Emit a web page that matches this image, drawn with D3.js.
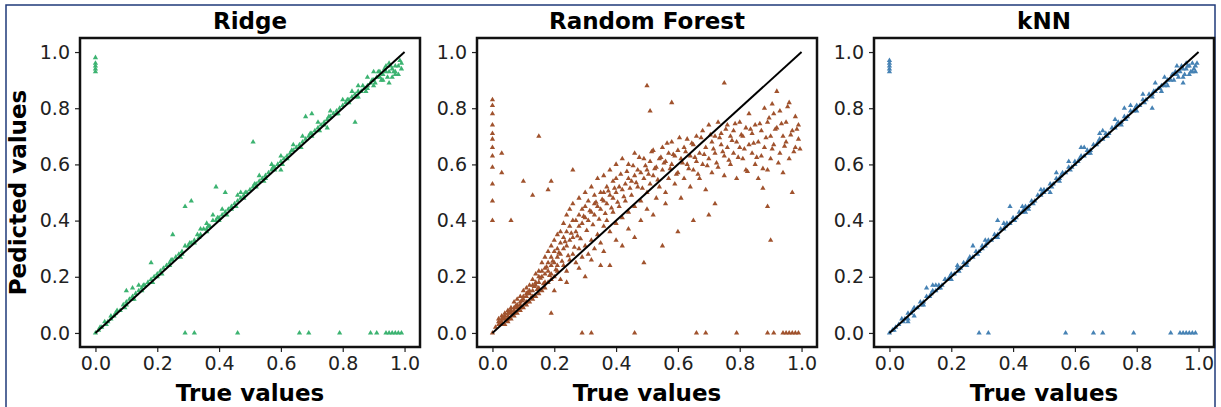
<!DOCTYPE html>
<html>
<head>
<meta charset="utf-8">
<script src="https://cdn.jsdelivr.net/npm/d3@7"></script>
<style>
  body { margin: 0; background: white; }
  svg { font-family: "DejaVu Sans", sans-serif; }
  .tick text { font-size: 19px !important; fill: #222; }
</style>
</head>
<body>
<svg id="chart" width="1221" height="407"></svg>
<script>
// panel titles and colours
var titles = ["Ridge", "Random Forest", "kNN"];
var colors = ["#3cb371", "#a0522d", "#4682b4"];
var ticks = [0.0, 0.2, 0.4, 0.6, 0.8, 1.0];
var diagonal = [[0, 0], [1, 1]];

// [true, predicted]
var ridgePoints = [
  [0.01,0.01],[0.02,0.02],[0.03,0.04],[0.04,0.04],[0.05,0.06],[0.06,0.06],[0.07,0.08],[0.08,0.08],[0.09,0.10],[0.10,0.11],
  [0.11,0.12],[0.12,0.13],[0.13,0.14],[0.14,0.15],[0.15,0.16],[0.16,0.17],[0.17,0.18],[0.18,0.19],[0.19,0.20],[0.20,0.21],
  [0.21,0.22],[0.22,0.23],[0.23,0.24],[0.24,0.25],[0.25,0.26],[0.26,0.27],[0.27,0.28],[0.28,0.29],[0.29,0.31],[0.30,0.31],
  [0.31,0.32],[0.32,0.33],[0.33,0.35],[0.34,0.35],[0.35,0.37],[0.36,0.37],[0.37,0.38],[0.38,0.40],[0.39,0.40],[0.40,0.41],
  [0.41,0.42],[0.42,0.43],[0.43,0.44],[0.44,0.45],[0.45,0.46],[0.46,0.47],[0.47,0.48],[0.48,0.49],[0.49,0.50],[0.50,0.51],
  [0.51,0.52],[0.52,0.53],[0.53,0.54],[0.54,0.55],[0.55,0.56],[0.56,0.57],[0.57,0.58],[0.58,0.59],[0.59,0.60],[0.60,0.61],
  [0.61,0.62],[0.62,0.63],[0.63,0.64],[0.64,0.65],[0.65,0.66],[0.66,0.67],[0.67,0.68],[0.68,0.69],[0.69,0.70],[0.70,0.71],
  [0.71,0.72],[0.72,0.73],[0.73,0.74],[0.74,0.75],[0.75,0.76],[0.76,0.77],[0.77,0.78],[0.78,0.79],[0.79,0.80],[0.80,0.81],
  [0.81,0.82],[0.82,0.83],[0.83,0.84],[0.84,0.85],[0.85,0.86],[0.86,0.86],[0.87,0.87],[0.88,0.88],[0.89,0.89],[0.90,0.90],
  [0.91,0.91],[0.92,0.91],[0.93,0.92],[0.94,0.93],[0.95,0.93],[0.96,0.94],[0.97,0.95],[0.98,0.95],[0.99,0.96],[0.99,0.94],
  [0.05,0.05],[0.10,0.10],[0.12,0.12],[0.15,0.15],[0.20,0.20],[0.24,0.24],[0.28,0.28],[0.32,0.32],[0.36,0.36],[0.40,0.40],
  [0.44,0.44],[0.48,0.48],[0.52,0.52],[0.55,0.55],[0.58,0.58],[0.62,0.62],[0.66,0.66],[0.70,0.70],[0.74,0.74],[0.78,0.78],
  [0.82,0.82],[0.85,0.84],[0.88,0.87],[0.90,0.88],[0.92,0.93],[0.93,0.90],[0.95,0.96],[0.96,0.91],[0.97,0.93],[0.98,0.92],
  [0.34,0.37],[0.36,0.39],[0.38,0.42],[0.41,0.44],[0.47,0.50],[0.53,0.56],[0.57,0.60],[0.60,0.63],[0.64,0.67],[0.67,0.70],
  [0.72,0.75],[0.76,0.79],[0.80,0.83],[0.83,0.86],[0.85,0.88],[0.88,0.91],[0.90,0.93],[0.94,0.95],[0.60,0.58],[0.75,0.73],
  [0.015,0.02],[0.035,0.03],[0.065,0.07],[0.095,0.09],[0.125,0.12],[0.155,0.17],[0.185,0.18],[0.215,0.21],[0.245,0.26],[0.275,0.27],
  [0.305,0.32],[0.335,0.34],[0.365,0.38],[0.395,0.41],[0.425,0.42],[0.455,0.45],[0.485,0.50],[0.515,0.53],[0.545,0.54],[0.575,0.59],
  [0.605,0.60],[0.635,0.65],[0.665,0.66],[0.695,0.71],[0.725,0.72],[0.755,0.77],[0.785,0.78],[0.815,0.83],[0.845,0.84],[0.865,0.88],
  [0.875,0.86],[0.895,0.90],[0.905,0.89],[0.915,0.93],[0.925,0.90],[0.935,0.94],[0.945,0.91],[0.955,0.95],[0.965,0.93],[0.985,0.97],
  [0.29,0.45],[0.31,0.47],[0.39,0.52],[0.42,0.50],[0.51,0.68],[0.25,0.35],[0.18,0.25],[0.10,0.15],[0.12,0.16],[0.14,0.17],
  [0.68,0.77],[0.70,0.78],[0.84,0.75],[0.97,0.92],[0.95,0.89],[0.46,0.49],
  [0.00,0.98],[0.00,0.96],[0.00,0.95],[0.00,0.94],[0.00,0.93],[0.00,0.00],
  [0.29,0.00],[0.32,0.00],[0.46,0.00],[0.66,0.00],[0.69,0.00],[0.79,0.00],[0.89,0.00],[0.91,0.00],
  [0.94,0.00],[0.95,0.00],[0.96,0.00],[0.97,0.00],[0.98,0.00],[0.99,0.00]
];

var forestPoints = [
  [0.01,0.02],[0.02,0.03],[0.02,0.05],[0.03,0.04],[0.03,0.06],[0.04,0.05],[0.04,0.07],[0.04,0.03],[0.05,0.06],[0.05,0.08],
  [0.05,0.04],[0.06,0.07],[0.06,0.09],[0.06,0.05],[0.07,0.08],[0.07,0.11],[0.07,0.06],[0.08,0.09],[0.08,0.12],[0.08,0.07],
  [0.09,0.10],[0.09,0.13],[0.09,0.08],[0.10,0.12],[0.10,0.15],[0.10,0.09],[0.11,0.13],[0.11,0.16],[0.11,0.10],[0.12,0.14],
  [0.12,0.17],[0.12,0.11],[0.13,0.15],[0.13,0.19],[0.13,0.12],[0.14,0.17],[0.14,0.21],[0.14,0.13],[0.15,0.18],[0.15,0.22],
  [0.15,0.14],[0.16,0.20],[0.16,0.25],[0.16,0.15],[0.17,0.21],[0.17,0.27],[0.17,0.16],[0.18,0.22],[0.18,0.29],[0.18,0.18],
  [0.19,0.24],[0.19,0.31],[0.19,0.19],[0.20,0.25],[0.20,0.33],[0.20,0.20],[0.21,0.27],[0.21,0.35],[0.21,0.22],[0.22,0.28],
  [0.22,0.36],[0.22,0.19],[0.23,0.30],[0.23,0.39],[0.23,0.24],[0.24,0.31],[0.24,0.42],[0.24,0.22],[0.25,0.33],[0.25,0.44],
  [0.25,0.26],[0.26,0.34],[0.26,0.46],[0.26,0.28],[0.27,0.36],[0.27,0.40],[0.27,0.25],[0.28,0.38],[0.28,0.48],[0.28,0.30],
  [0.29,0.39],[0.29,0.44],[0.29,0.27],[0.30,0.41],[0.30,0.50],[0.30,0.31],[0.31,0.40],[0.31,0.47],[0.31,0.28],[0.32,0.43],
  [0.32,0.52],[0.32,0.33],[0.33,0.42],[0.33,0.49],[0.33,0.30],[0.34,0.45],[0.34,0.55],[0.34,0.35],[0.35,0.44],[0.35,0.50],
  [0.35,0.32],[0.36,0.47],[0.36,0.56],[0.36,0.38],[0.37,0.46],[0.37,0.52],[0.37,0.40],[0.38,0.49],[0.38,0.58],[0.38,0.36],
  [0.39,0.48],[0.39,0.54],[0.39,0.43],[0.40,0.50],[0.40,0.60],[0.40,0.39],[0.41,0.52],[0.41,0.45],[0.42,0.51],[0.42,0.62],
  [0.42,0.41],[0.43,0.53],[0.43,0.47],[0.44,0.55],[0.44,0.60],[0.44,0.43],[0.45,0.54],[0.45,0.49],[0.46,0.56],[0.46,0.64],
  [0.46,0.45],[0.47,0.52],[0.47,0.58],[0.48,0.57],[0.48,0.47],[0.49,0.55],[0.49,0.62],[0.50,0.58],[0.50,0.50],[0.50,0.44],
  [0.51,0.61],[0.51,0.53],[0.52,0.56],[0.52,0.65],[0.53,0.59],[0.53,0.48],[0.54,0.62],[0.54,0.52],[0.55,0.58],[0.55,0.66],
  [0.56,0.61],[0.56,0.50],[0.57,0.64],[0.57,0.55],[0.58,0.60],[0.58,0.68],[0.59,0.63],[0.59,0.53],[0.60,0.65],[0.60,0.57],
  [0.61,0.62],[0.61,0.48],[0.62,0.66],[0.62,0.55],[0.63,0.69],[0.63,0.60],[0.64,0.63],[0.64,0.52],[0.65,0.67],[0.65,0.58],
  [0.66,0.70],[0.66,0.61],[0.67,0.64],[0.67,0.55],[0.68,0.72],[0.68,0.60],[0.69,0.66],[0.69,0.51],[0.70,0.74],[0.70,0.62],
  [0.71,0.68],[0.71,0.57],[0.72,0.70],[0.72,0.64],[0.73,0.75],[0.73,0.59],[0.74,0.67],[0.74,0.71],[0.75,0.63],[0.75,0.56],
  [0.76,0.74],[0.76,0.66],[0.77,0.70],[0.77,0.60],[0.78,0.72],[0.78,0.64],[0.79,0.68],[0.79,0.55],[0.80,0.75],[0.80,0.66],
  [0.81,0.62],[0.81,0.70],[0.82,0.73],[0.82,0.58],[0.83,0.67],[0.83,0.78],[0.84,0.64],[0.84,0.71],[0.85,0.60],[0.85,0.74],
  [0.86,0.68],[0.86,0.55],[0.87,0.72],[0.87,0.63],[0.88,0.80],[0.88,0.66],[0.89,0.58],[0.89,0.75],[0.90,0.70],[0.90,0.62],
  [0.91,0.78],[0.91,0.67],[0.92,0.73],[0.92,0.86],[0.93,0.64],[0.93,0.79],[0.94,0.70],[0.94,0.57],[0.95,0.75],[0.95,0.68],
  [0.96,0.82],[0.96,0.62],[0.97,0.72],[0.97,0.50],[0.98,0.77],[0.98,0.66],[0.99,0.69],[0.99,0.74],
  [0.02,0.04],[0.03,0.05],[0.04,0.06],[0.05,0.07],[0.06,0.08],[0.07,0.09],[0.08,0.10],[0.09,0.11],[0.10,0.13],[0.11,0.14],
  [0.12,0.15],[0.13,0.17],[0.14,0.18],[0.15,0.20],[0.16,0.22],[0.17,0.23],[0.18,0.25],[0.19,0.27],[0.20,0.29],[0.21,0.30],
  [0.22,0.32],[0.23,0.34],[0.24,0.36],[0.25,0.38],[0.26,0.40],[0.28,0.42],[0.30,0.45],[0.33,0.46],[0.36,0.50],[0.40,0.55],
  [0.03,0.03],[0.05,0.05],[0.07,0.07],[0.09,0.09],[0.11,0.11],[0.13,0.13],[0.15,0.16],[0.17,0.18],[0.19,0.21],[0.21,0.24],
  [0.025,0.035],[0.035,0.055],[0.045,0.045],[0.055,0.075],[0.065,0.065],[0.075,0.095],[0.085,0.085],[0.095,0.115],[0.105,0.105],[0.115,0.145],
  [0.125,0.125],[0.135,0.165],[0.145,0.155],[0.155,0.195],[0.165,0.175],[0.175,0.235],[0.185,0.205],[0.195,0.255],[0.205,0.225],[0.215,0.285],
  [0.225,0.255],[0.235,0.325],[0.245,0.275],[0.255,0.355],[0.265,0.305],[0.275,0.345],[0.285,0.335],[0.295,0.415],[0.305,0.365],[0.315,0.435],
  [0.325,0.385],[0.335,0.465],[0.345,0.405],[0.355,0.475],[0.365,0.425],[0.375,0.505],[0.385,0.445],[0.395,0.515],[0.405,0.465],[0.415,0.565],
  [0.425,0.485],[0.435,0.575],[0.445,0.515],[0.455,0.595],[0.465,0.535],[0.475,0.625],[0.485,0.515],[0.495,0.595],[0.505,0.565],[0.515,0.645],
  [0.525,0.585],[0.535,0.545],[0.545,0.625],[0.555,0.605],[0.565,0.675],[0.575,0.585],[0.585,0.635],[0.595,0.565],[0.605,0.695],[0.615,0.605],
  [0.625,0.645],[0.635,0.585],[0.645,0.675],[0.655,0.625],[0.665,0.565],[0.675,0.695],[0.685,0.635],[0.695,0.595],[0.705,0.705],[0.715,0.655],
  [0.725,0.605],[0.735,0.695],[0.745,0.645],[0.755,0.725],[0.765,0.615],[0.775,0.685],[0.785,0.745],[0.795,0.625],[0.805,0.705],[0.815,0.655],
  [0.825,0.575],[0.835,0.725],[0.845,0.675],[0.855,0.625],[0.865,0.745],[0.875,0.585],[0.885,0.695],[0.895,0.765],[0.905,0.655],[0.915,0.725],
  [0.925,0.605],[0.935,0.745],[0.945,0.665],[0.955,0.805],[0.965,0.705],[0.975,0.645],[0.985,0.725],[0.995,0.655],[0.905,0.815],[0.875,0.515],
  [0.20,0.15],[0.24,0.18],[0.28,0.23],[0.32,0.26],[0.36,0.29],[0.40,0.33],[0.44,0.37],[0.48,0.40],[0.52,0.42],[0.56,0.46],
  [0.30,0.20],[0.35,0.24],[0.38,0.24],[0.42,0.31],[0.46,0.34],[0.55,0.31],[0.60,0.36],[0.65,0.40],[0.70,0.42],[0.72,0.46],
  [0.00,0.83],[0.00,0.81],[0.00,0.78],[0.00,0.74],[0.00,0.71],[0.00,0.69],[0.00,0.66],[0.00,0.63],[0.00,0.59],[0.00,0.53],
  [0.00,0.47],[0.00,0.40],[0.00,0.00],[0.03,0.64],[0.03,0.57],[0.15,0.70],[0.10,0.54],[0.18,0.51],[0.19,0.54],[0.26,0.58],
  [0.50,0.88],[0.51,0.79],[0.75,0.89],[0.90,0.33],[0.89,0.45],[0.49,0.25],[0.19,0.07],[0.06,0.40],[0.13,0.49],[0.58,0.82],
  [0.29,0.00],[0.32,0.00],[0.46,0.00],[0.66,0.00],[0.69,0.00],[0.79,0.00],[0.89,0.00],[0.91,0.00],
  [0.94,0.00],[0.95,0.00],[0.96,0.00],[0.97,0.00],[0.98,0.00],[0.99,0.00]
];

var knnPoints = [
  [0.01,0.01],[0.02,0.02],[0.03,0.03],[0.04,0.05],[0.05,0.05],[0.06,0.07],[0.07,0.07],[0.08,0.09],[0.09,0.09],[0.10,0.11],
  [0.11,0.11],[0.12,0.13],[0.13,0.13],[0.14,0.15],[0.15,0.15],[0.16,0.17],[0.17,0.17],[0.18,0.19],[0.19,0.19],[0.20,0.21],
  [0.21,0.21],[0.22,0.23],[0.23,0.23],[0.24,0.25],[0.25,0.25],[0.26,0.27],[0.27,0.27],[0.28,0.29],[0.29,0.29],[0.30,0.31],
  [0.31,0.31],[0.32,0.33],[0.33,0.33],[0.34,0.35],[0.35,0.35],[0.36,0.37],[0.37,0.37],[0.38,0.39],[0.39,0.39],[0.40,0.41],
  [0.41,0.41],[0.42,0.43],[0.43,0.43],[0.44,0.45],[0.45,0.45],[0.46,0.47],[0.47,0.47],[0.48,0.49],[0.49,0.49],[0.50,0.51],
  [0.51,0.51],[0.52,0.53],[0.53,0.53],[0.54,0.55],[0.55,0.55],[0.56,0.57],[0.57,0.57],[0.58,0.59],[0.59,0.59],[0.60,0.61],
  [0.61,0.61],[0.62,0.63],[0.63,0.63],[0.64,0.65],[0.65,0.65],[0.66,0.67],[0.67,0.67],[0.68,0.69],[0.69,0.69],[0.70,0.71],
  [0.71,0.71],[0.72,0.73],[0.73,0.73],[0.74,0.75],[0.75,0.75],[0.76,0.77],[0.77,0.77],[0.78,0.79],[0.79,0.79],[0.80,0.81],
  [0.81,0.81],[0.82,0.83],[0.83,0.83],[0.84,0.85],[0.85,0.85],[0.86,0.86],[0.87,0.87],[0.88,0.88],[0.89,0.88],[0.90,0.90],
  [0.91,0.90],[0.92,0.92],[0.93,0.92],[0.94,0.93],[0.95,0.94],[0.96,0.94],[0.97,0.95],[0.98,0.96],[0.99,0.95],[0.99,0.93],
  [0.06,0.05],[0.11,0.10],[0.16,0.16],[0.20,0.19],[0.25,0.24],[0.30,0.30],[0.35,0.34],[0.40,0.40],[0.45,0.44],[0.50,0.50],
  [0.55,0.54],[0.60,0.60],[0.65,0.64],[0.70,0.70],[0.75,0.74],[0.80,0.79],[0.85,0.84],[0.88,0.86],[0.90,0.88],[0.92,0.90],
  [0.93,0.95],[0.95,0.91],[0.96,0.96],[0.97,0.92],[0.98,0.93],[0.15,0.17],[0.22,0.24],[0.31,0.33],[0.37,0.39],[0.43,0.45],
  [0.49,0.51],[0.54,0.57],[0.58,0.61],[0.63,0.66],[0.68,0.71],[0.73,0.76],[0.78,0.81],[0.82,0.85],[0.86,0.89],[0.89,0.91],
  [0.015,0.01],[0.045,0.04],[0.075,0.08],[0.105,0.10],[0.135,0.14],[0.165,0.16],[0.195,0.20],[0.225,0.22],[0.255,0.26],[0.285,0.28],
  [0.315,0.32],[0.345,0.34],[0.375,0.38],[0.405,0.40],[0.435,0.44],[0.465,0.46],[0.495,0.50],[0.525,0.52],[0.555,0.56],[0.585,0.58],
  [0.615,0.62],[0.645,0.64],[0.675,0.68],[0.705,0.70],[0.735,0.74],[0.765,0.76],[0.795,0.80],[0.825,0.82],[0.855,0.86],[0.875,0.87],
  [0.895,0.89],[0.915,0.92],[0.935,0.91],[0.945,0.95],[0.955,0.92],[0.965,0.95],[0.975,0.93],[0.985,0.94],[0.995,0.96],[0.925,0.93],
  [0.12,0.16],[0.14,0.17],[0.18,0.19],[0.27,0.31],[0.35,0.40],[0.39,0.45],[0.44,0.43],[0.52,0.50],[0.62,0.66],[0.69,0.72],
  [0.76,0.80],[0.85,0.80],[0.95,0.89],[0.06,0.04],[0.08,0.06],
  [0.00,0.97],[0.00,0.96],[0.00,0.95],[0.00,0.94],[0.00,0.93],[0.00,0.00],
  [0.29,0.00],[0.32,0.00],[0.57,0.00],[0.66,0.00],[0.69,0.00],[0.79,0.00],[0.91,0.00],
  [0.94,0.00],[0.95,0.00],[0.96,0.00],[0.97,0.00],[0.98,0.00],[0.99,0.00]
];

var allPoints = [ridgePoints, forestPoints, knnPoints];

var svg = d3.select("#chart");

// outer frame
svg.append("rect")
    .attr("x", 6).attr("y", 5)
    .attr("width", 1209).attr("height", 410)
    .attr("fill", "none")
    .attr("stroke", "#1f3a7a")
    .attr("stroke-width", 1.5);

var panelLeft = [80, 477, 874];
var panelTop = 38, panelW = 340, panelH = 309;

allPoints.forEach(function (points, i) {
    var g = svg.append("g").attr("transform", "translate(" + panelLeft[i] + "," + panelTop + ")");

    var x = d3.scaleLinear().domain([-0.05, 1.05]).range([0, panelW]);
    var y = d3.scaleLinear().domain([-0.05, 1.05]).range([panelH, 0]);

    var xAxis = g.append("g").attr("transform", "translate(0," + panelH + ")")
        .call(d3.axisBottom(x).tickValues(ticks).tickFormat(d3.format(".1f")).tickSize(5).tickPadding(5));
    var yAxis = g.append("g")
        .call(d3.axisLeft(y).tickValues(ticks).tickFormat(d3.format(".1f")).tickSize(5).tickPadding(5));
    [xAxis, yAxis].forEach(function (a) {
        a.attr("font-size", 19).attr("font-family", "DejaVu Sans");
        a.select(".domain").remove();
        a.selectAll("line").attr("stroke", "#222").attr("stroke-width", 1.2);
    });

    g.append("g").selectAll("path")
        .data(points)
        .enter().append("path")
        .attr("transform", function (d) { return "translate(" + x(d[0]) + "," + y(d[1]) + ")"; })
        .attr("d", d3.symbol().type(d3.symbolTriangle).size(12))
        .attr("fill", colors[i]);

    g.append("path")
        .datum(diagonal)
        .attr("d", d3.line().x(function (d) { return x(d[0]); }).y(function (d) { return y(d[1]); }))
        .attr("stroke", "black")
        .attr("stroke-width", 2)
        .attr("fill", "none");

    g.append("rect")
        .attr("width", panelW).attr("height", panelH)
        .attr("fill", "none").attr("stroke", "#111").attr("stroke-width", 2.5);

    g.append("text")
        .attr("x", panelW / 2).attr("y", -9)
        .attr("text-anchor", "middle")
        .style("font-size", "23px").style("font-weight", "bold")
        .text(titles[i]);

    g.append("text")
        .attr("x", panelW / 2).attr("y", panelH + 54)
        .attr("text-anchor", "middle")
        .style("font-size", "23px").style("font-weight", "bold")
        .text("True values");

    if (i === 0) {
        g.append("text")
            .attr("transform", "translate(-54," + (panelH / 2) + ") rotate(-90)")
            .attr("text-anchor", "middle")
            .style("font-size", "23px").style("font-weight", "bold")
            .text("Pedicted values");
    }
});
</script>
</body>
</html>
